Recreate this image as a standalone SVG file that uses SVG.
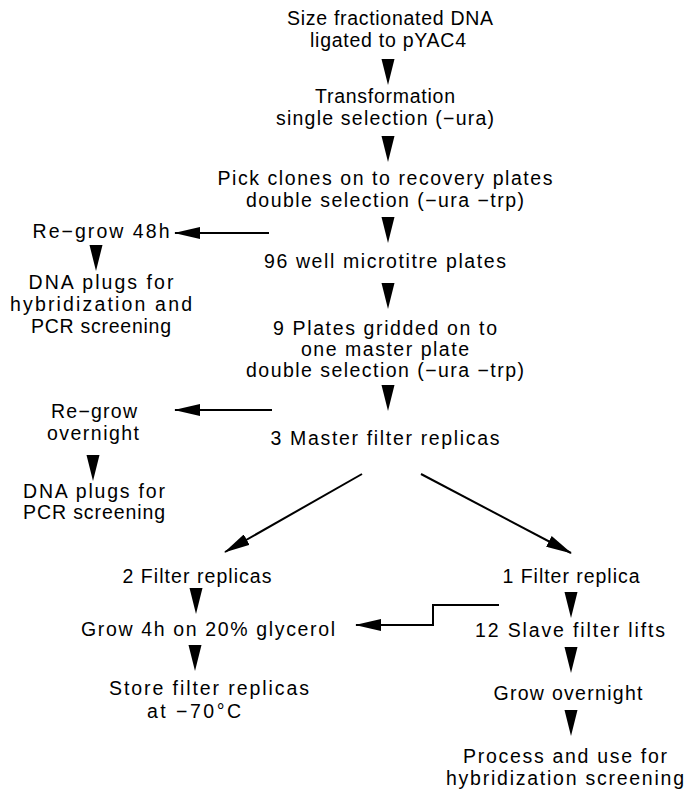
<svg xmlns="http://www.w3.org/2000/svg" width="685" height="795" viewBox="0 0 685 795">
  <defs>
    <style>
      text { font-family: "Liberation Sans", "DejaVu Sans", sans-serif; font-size: 19.5px; fill: #000; text-anchor: middle; }
      .wire { fill: none; stroke: #000; stroke-width: 2; }
      .head { fill: #000; }
    </style>
    <!-- filled downward step arrow -->
    <polygon id="down" class="head" points="-6.5,0 6.5,0 0,26"/>
    <marker id="tip" markerWidth="26" markerHeight="12" refX="25" refY="6" orient="auto" markerUnits="userSpaceOnUse">
      <path d="M0,0 L26,6 L0,12 Z" fill="#000"/>
    </marker>
  </defs>
  <rect width="685" height="795" fill="#fff"/>

  <!-- main column -->
  <g id="n-dna">
    <text x="390" y="25" textLength="206" lengthAdjust="spacing">Size fractionated DNA</text>
    <text x="388" y="47" textLength="156" lengthAdjust="spacing">ligated to pYAC4</text>
  </g>
  <g id="n-transform">
    <text x="385" y="103" textLength="140" lengthAdjust="spacing">Transformation</text>
    <text x="385" y="125" textLength="218" lengthAdjust="spacing">single selection (−ura)</text>
  </g>
  <g id="n-pick">
    <text x="385" y="185" textLength="335" lengthAdjust="spacing">Pick clones on to recovery plates</text>
    <text x="385" y="207" textLength="278" lengthAdjust="spacing">double selection (−ura −trp)</text>
  </g>
  <g id="n-96well">
    <text x="385" y="268" textLength="242" lengthAdjust="spacing">96 well microtitre plates</text>
  </g>
  <g id="n-gridded">
    <text x="385" y="335" textLength="224" lengthAdjust="spacing">9 Plates gridded on to</text>
    <text x="385" y="356" textLength="168" lengthAdjust="spacing">one master plate</text>
    <text x="385" y="377" textLength="278" lengthAdjust="spacing">double selection (−ura −trp)</text>
  </g>
  <g id="n-master">
    <text x="385" y="445" textLength="229" lengthAdjust="spacing">3 Master filter replicas</text>
  </g>

  <!-- left side branches -->
  <g id="n-regrow48">
    <text x="101" y="238" textLength="137" lengthAdjust="spacing">Re−grow 48h</text>
  </g>
  <g id="n-plugs1">
    <text x="101" y="289" textLength="145" lengthAdjust="spacing">DNA plugs for</text>
    <text x="101" y="311" textLength="182" lengthAdjust="spacing">hybridization and</text>
    <text x="101" y="333" textLength="140" lengthAdjust="spacing">PCR screening</text>
  </g>
  <g id="n-regrowovernight">
    <text x="94" y="418" textLength="86" lengthAdjust="spacing">Re−grow</text>
    <text x="93" y="440" textLength="92" lengthAdjust="spacing">overnight</text>
  </g>
  <g id="n-plugs2">
    <text x="94" y="498" textLength="142" lengthAdjust="spacing">DNA plugs for</text>
    <text x="94" y="519" textLength="142" lengthAdjust="spacing">PCR screening</text>
  </g>

  <!-- lower left branch -->
  <g id="n-2filters">
    <text x="197" y="583" textLength="149" lengthAdjust="spacing">2 Filter replicas</text>
  </g>
  <g id="n-glycerol">
    <text x="208" y="636" textLength="254" lengthAdjust="spacing">Grow 4h on 20% glycerol</text>
  </g>
  <g id="n-store">
    <text x="209" y="695" textLength="200" lengthAdjust="spacing">Store filter replicas</text>
    <text x="194" y="718" textLength="94" lengthAdjust="spacing">at −70°C</text>
  </g>

  <!-- lower right branch -->
  <g id="n-1filter">
    <text x="571" y="583" textLength="137" lengthAdjust="spacing">1 Filter replica</text>
  </g>
  <g id="n-slave">
    <text x="570" y="637" textLength="190" lengthAdjust="spacing">12 Slave filter lifts</text>
  </g>
  <g id="n-growovernight">
    <text x="568" y="700" textLength="149" lengthAdjust="spacing">Grow overnight</text>
  </g>
  <g id="n-process">
    <text x="565" y="763" textLength="204" lengthAdjust="spacing">Process and use for</text>
    <text x="565" y="785" textLength="238" lengthAdjust="spacing">hybridization screening</text>
  </g>

  <!-- connectors -->
  <g id="connectors">
    <use href="#down" x="388" y="59"/>
    <use href="#down" x="388" y="136"/>
    <use href="#down" x="388" y="217"/>
    <use href="#down" x="388" y="283"/>
    <use href="#down" x="388" y="385"/>

    <use href="#down" x="96" y="245"/>
    <use href="#down" x="93" y="455"/>

    <use href="#down" x="196" y="588"/>
    <use href="#down" x="195" y="645"/>

    <use href="#down" x="571" y="592"/>
    <use href="#down" x="571" y="647"/>
    <use href="#down" x="571" y="710"/>

    <line class="wire" x1="269" y1="233" x2="175" y2="233" marker-end="url(#tip)"/>
    <line class="wire" x1="272" y1="410" x2="175" y2="410" marker-end="url(#tip)"/>
    <line class="wire" x1="362" y1="474" x2="225" y2="552" marker-end="url(#tip)"/>
    <line class="wire" x1="421" y1="474" x2="571" y2="553" marker-end="url(#tip)"/>
    <polyline class="wire" points="499,605 433,605 433,625 356,625" marker-end="url(#tip)"/>
  </g>
</svg>
